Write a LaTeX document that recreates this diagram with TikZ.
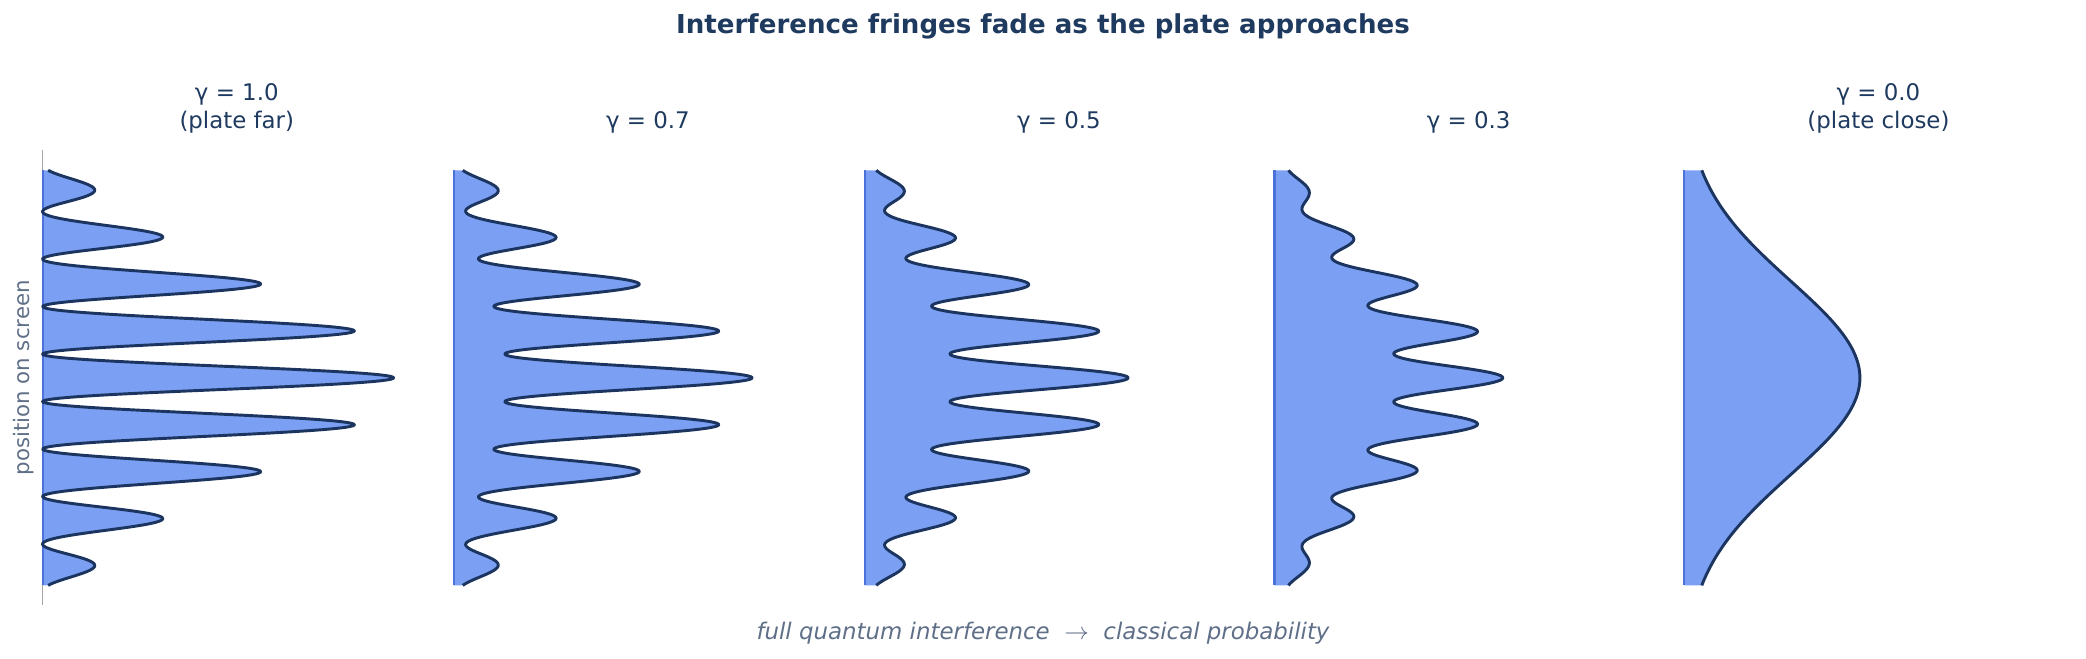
\documentclass[tikz,border=0pt]{standalone}
\usepackage{fontspec}
\setmainfont{DejaVu Sans}
\definecolor{fillb}{HTML}{7B9FF2}
\definecolor{edgeb}{HTML}{4A72D8}
\definecolor{linec}{HTML}{1B3460}
\definecolor{navy}{HTML}{1F3A5F}
\definecolor{grayt}{HTML}{5F6F88}
\begin{document}
\begin{tikzpicture}[x=0.5pt,y=0.5pt,
  ttl/.style={font=\fontsize{8.6}{10.4}\selectfont,text=navy,align=center,anchor=south},
  curve/.style={draw=linec,line width=1.1pt,line join=round}]
\useasboundingbox (0,0) rectangle (1568,-494.6);
\node[font=\bfseries\fontsize{9.8}{12}\selectfont,text=navy] (title) at (784,-20) {Interference fringes fade as the plate approaches};
\draw[gray!70,line width=0.6pt] (32,-113) coordinate (ax1) -- (32,-455) coordinate (ax2);
\node[rotate=90,font=\fontsize{8}{10}\selectfont,text=grayt] (ylab) at (18,-284) {position on screen};
\node[font=\itshape\fontsize{8.6}{10}\selectfont,text=grayt] (xlab) at (784,-476) {full quantum interference \ $\rightarrow$ \ classical probability};
\foreach \b/\g/\lab [count=\i] in {32/1.0/{γ = 1.0\\(plate far)},341/0.7/{γ = 0.7},650/0.5/{γ = 0.5},958/0.3/{γ = 0.3},1266/0.0/{γ = 0.0\\(plate close)}}{
  \fill[fillb] plot[domain=-156:156,samples=500,variable=\t]
     ({\b+132*exp(-(\t/100)*(\t/100)/1.0568)*(1+\g*cos(10.084*\t))},{-(284+\t)}) -- (\b,-440) -- (\b,-128) -- cycle;
  \draw[edgeb,line width=0.8pt] (\b,-128) coordinate (t\i) -- (\b,-440) coordinate (b\i);
  \draw[curve] plot[domain=-156:156,samples=500,variable=\t]
     ({\b+132*exp(-(\t/100)*(\t/100)/1.0568)*(1+\g*cos(10.084*\t))},{-(284+\t)});
  \node[ttl] (lab\i) at (\b+146,-107) {\lab};
}
\end{tikzpicture}
\end{document}
